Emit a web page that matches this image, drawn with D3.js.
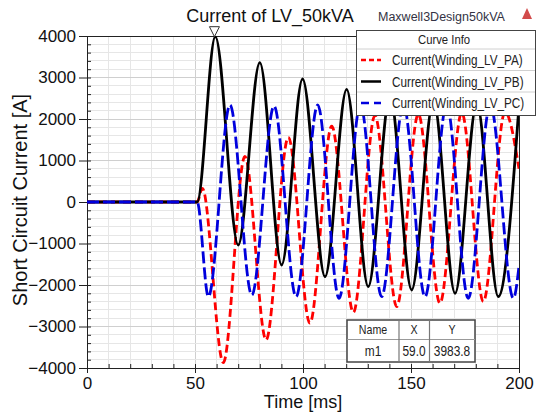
<!DOCTYPE html>
<html>
<head>
<meta charset="utf-8">
<script src="https://cdn.jsdelivr.net/npm/d3@7"></script>
<style>
  body { margin: 0; background: #fff; }
  svg { display: block; font-family: "Liberation Sans", Arial, sans-serif; }
</style>
</head>
<body>
<div class="chart"></div>
<script>
// Values (time in ms, current in A)
const paTime = [0, 51, 53.4, 63.1, 73.1, 82.9, 93.2, 103.2, 113.3, 123.3, 133.3, 143.4, 153.4, 163.4, 173.5, 183.5, 193.5, 200];
const paCurrent = [0, 0, 330, -3870, 1100, -3325, 1560, -2920, 1830, -2660, 2080, -2520, 2120, -2440, 2150, -2400, 2170, 800];

const pbTime = [0, 51, 59.4, 70.0, 80.0, 90.1, 99.8, 110.2, 120.2, 130.2, 140.3, 150.3, 160.4, 170.4, 180.5, 190.4, 200];
const pbCurrent = [0, 0, 3984, -1036, 3357, -1518, 2964, -1800, 2715, -2040, 2560, -2120, 2450, -2200, 2380, -2280, 2320];

const pcTime = [0, 51, 56.2, 66.2, 76.3, 86.6, 96.8, 106.8, 116.7, 126.6, 136.4, 146.5, 156.5, 166.5, 176.5, 186.7, 197.4, 200];
const pcCurrent = [0, 0, -2282, 2337, -2241, 2313, -2282, 2337, -2321, 2350, -2282, 2350, -2282, 2350, -2321, 2350, -2321, -1550];

const curveNames = ["Current(Winding_LV_PA)", "Current(Winding_LV_PB)", "Current(Winding_LV_PC)"];
const xTicks = [0, 50, 100, 150, 200];
const yTicks = [-4000, -3000, -2000, -1000, 0, 1000, 2000, 3000, 4000];

const markerName = "m1";
const markerX = 59.0;
const markerY = 3983.8;

// layout
const W = 536, H = 414;
const plot = { left: 87, right: 519, top: 36, bottom: 368 };

const svg = d3.select(".chart")
  .append("svg")
  .attr("width", W)
  .attr("height", H);

const xScale = d3.scaleLinear().domain([0, 200]).range([plot.left, plot.right]);
const yScale = d3.scaleLinear().domain([-4000, 4000]).range([plot.bottom, plot.top]);

// grid
const grid = svg.append("g");
grid.selectAll(".vgrid")
  .data(d3.range(10, 200, 10))
  .enter()
  .append("line")
  .attr("x1", (d) => xScale(d)).attr("x2", (d) => xScale(d))
  .attr("y1", plot.top).attr("y2", plot.bottom)
  .attr("stroke", (d) => d % 50 === 0 ? "#cfcfcf" : "#e6e6e6")
  .attr("stroke-width", 1)
  .attr("shape-rendering", "crispEdges");
grid.selectAll(".hgrid")
  .data(d3.range(-3800, 4000, 200))
  .enter()
  .append("line")
  .attr("x1", plot.left).attr("x2", plot.right)
  .attr("y1", (d) => yScale(d)).attr("y2", (d) => yScale(d))
  .attr("stroke", (d) => d % 1000 === 0 ? "#cfcfcf" : "#e6e6e6")
  .attr("stroke-width", 1)
  .attr("shape-rendering", "crispEdges");

// frame
svg.append("rect")
  .attr("x", plot.left).attr("y", plot.top)
  .attr("width", plot.right - plot.left).attr("height", plot.bottom - plot.top)
  .attr("fill", "none").attr("stroke", "#222").attr("stroke-width", 1)
  .attr("shape-rendering", "crispEdges");

// axes
const yAxis = d3.axisLeft(yScale).tickValues(yTicks).tickFormat(d3.format("d"))
  .tickSizeInner(8).tickSizeOuter(0).tickPadding(3);
const yMinor = d3.axisRight(yScale).tickValues(d3.range(-4000, 4001, 200)).tickSize(4).tickFormat("");
const xAxis = d3.axisBottom(xScale).tickValues(xTicks).tickFormat(d3.format("d"))
  .tickSizeInner(5).tickSizeOuter(0).tickPadding(4);
const xMinor = d3.axisTop(xScale).tickValues(d3.range(0, 201, 10)).tickSize(4).tickFormat("");

const gy = svg.append("g").attr("transform", `translate(${plot.left},0)`).call(yAxis);
svg.append("g").attr("transform", `translate(${plot.left},0)`).call(yMinor).select(".domain").remove();
const gx = svg.append("g").attr("transform", `translate(0,${plot.bottom})`).call(xAxis);
svg.append("g").attr("transform", `translate(0,${plot.bottom})`).call(xMinor).select(".domain").remove();

svg.selectAll(".tick line").attr("stroke", "#222");
gy.selectAll("text").style("font-size", "17px").attr("fill", "#111");
gx.selectAll("text").style("font-size", "17px").attr("fill", "#111");
svg.selectAll(".domain").attr("stroke", "#222");

// axis titles
svg.append("text")
  .attr("x", (plot.left + plot.right) / 2)
  .attr("y", 408)
  .attr("text-anchor", "middle")
  .style("font-size", "18px")
  .attr("fill", "#111")
  .text("Time [ms]");

svg.append("text")
  .attr("transform", "translate(27,200) rotate(-90)")
  .attr("text-anchor", "middle")
  .style("font-size", "20px")
  .attr("fill", "#111")
  .text("Short Circuit Current [A]");

// title
svg.append("text")
  .attr("x", 270)
  .attr("y", 22)
  .attr("text-anchor", "middle")
  .style("font-size", "18px")
  .attr("fill", "#111")
  .text("Current of LV_50kVA");

svg.append("text")
  .attr("x", 378)
  .attr("y", 21)
  .style("font-size", "12.5px")
  .attr("fill", "#333344")
  .text("Maxwell3Design50kVA");

svg.append("path")
  .attr("d", "M527,8 L532,19 L522,19 Z")
  .attr("fill", "#d24b4b");

// curves
svg.append("clipPath").attr("id", "clip")
  .append("rect")
  .attr("x", plot.left).attr("y", plot.top)
  .attr("width", plot.right - plot.left).attr("height", plot.bottom - plot.top);

const series = [
  { name: curveNames[0], t: paTime, v: paCurrent, color: "#ff0000", dash: "8,4", legendDash: "5,3" },
  { name: curveNames[1], t: pbTime, v: pbCurrent, color: "#000000", dash: null, legendDash: null },
  { name: curveNames[2], t: pcTime, v: pcCurrent, color: "#0000dd", dash: "12,4", legendDash: "8,5" }
];

const line = d3.line()
  .x((d) => xScale(d[0]))
  .y((d) => yScale(d[1]))
  .curve(d3.curveMonotoneX);

svg.append("g")
  .attr("clip-path", "url(#clip)")
  .selectAll("path")
  .data(series)
  .enter()
  .append("path")
  .attr("d", (s) => line(s.t.map((t, i) => [t, s.v[i]])))
  .attr("fill", "none")
  .attr("stroke", (s) => s.color)
  .attr("stroke-width", 2.8)
  .attr("stroke-dasharray", (s) => s.dash);

// marker
const mx = xScale(markerX), my = yScale(markerY);
svg.append("path")
  .attr("d", `M${mx},${my} L${mx - 5},${my - 10} L${mx + 5},${my - 10} Z`)
  .attr("fill", "#fff")
  .attr("stroke", "#333")
  .attr("stroke-width", 1);

// legend
const lg = svg.append("g");
lg.append("rect")
  .attr("x", 356.5).attr("y", 30.5)
  .attr("width", 179).attr("height", 85)
  .attr("fill", "#fff").attr("stroke", "#444").attr("stroke-width", 1);
lg.selectAll(".sep")
  .data([49, 70.5, 92])
  .enter()
  .append("line")
  .attr("x1", 357).attr("x2", 535)
  .attr("y1", (d) => d).attr("y2", (d) => d)
  .attr("stroke", "#d0d0d0");
lg.append("text")
  .attr("transform", "translate(418,44) scale(0.87,1)")
  .style("font-size", "13px").attr("fill", "#222")
  .text("Curve Info");
const rows = lg.selectAll(".row")
  .data(series)
  .enter()
  .append("g")
  .attr("transform", (d, i) => `translate(0,${[60, 81.5, 103][i]})`);
rows.append("line")
  .attr("x1", 361).attr("x2", 381).attr("y1", 0).attr("y2", 0)
  .attr("stroke", (d) => d.color).attr("stroke-width", 2.5)
  .attr("stroke-dasharray", (d) => d.legendDash);
rows.append("text")
  .attr("transform", "translate(392,5) scale(0.84,1)")
  .style("font-size", "14px").attr("fill", "#222")
  .text((d) => d.name);

// marker table
const tb = svg.append("g");
tb.append("rect")
  .attr("x", 347).attr("y", 320)
  .attr("width", 128).attr("height", 42)
  .attr("fill", "#fff").attr("stroke", "#444").attr("stroke-width", 1.5);
tb.append("line").attr("x1", 347).attr("x2", 475).attr("y1", 339.5).attr("y2", 339.5).attr("stroke", "#999");
tb.selectAll(".col")
  .data([399, 429.5])
  .enter()
  .append("line")
  .attr("x1", (d) => d).attr("x2", (d) => d)
  .attr("y1", 320).attr("y2", 362)
  .attr("stroke", "#777").attr("stroke-width", 1.2);
const colX = [373, 414, 452];
const headers = ["Name", "X", "Y"];
tb.selectAll(".hd")
  .data(headers)
  .enter()
  .append("text")
  .attr("transform", (d, i) => `translate(${colX[i]},334) scale(0.85,1)`)
  .attr("text-anchor", "middle")
  .style("font-size", "12.5px").attr("fill", "#222")
  .text((d) => d);
const cells = [markerName, markerX.toFixed(1), markerY.toFixed(1)];
tb.selectAll(".cell")
  .data(cells)
  .enter()
  .append("text")
  .attr("transform", (d, i) => `translate(${colX[i]},356) scale(0.85,1)`)
  .attr("text-anchor", "middle")
  .style("font-size", "14px").attr("fill", "#222")
  .text((d) => d);
</script>
</body>
</html>
